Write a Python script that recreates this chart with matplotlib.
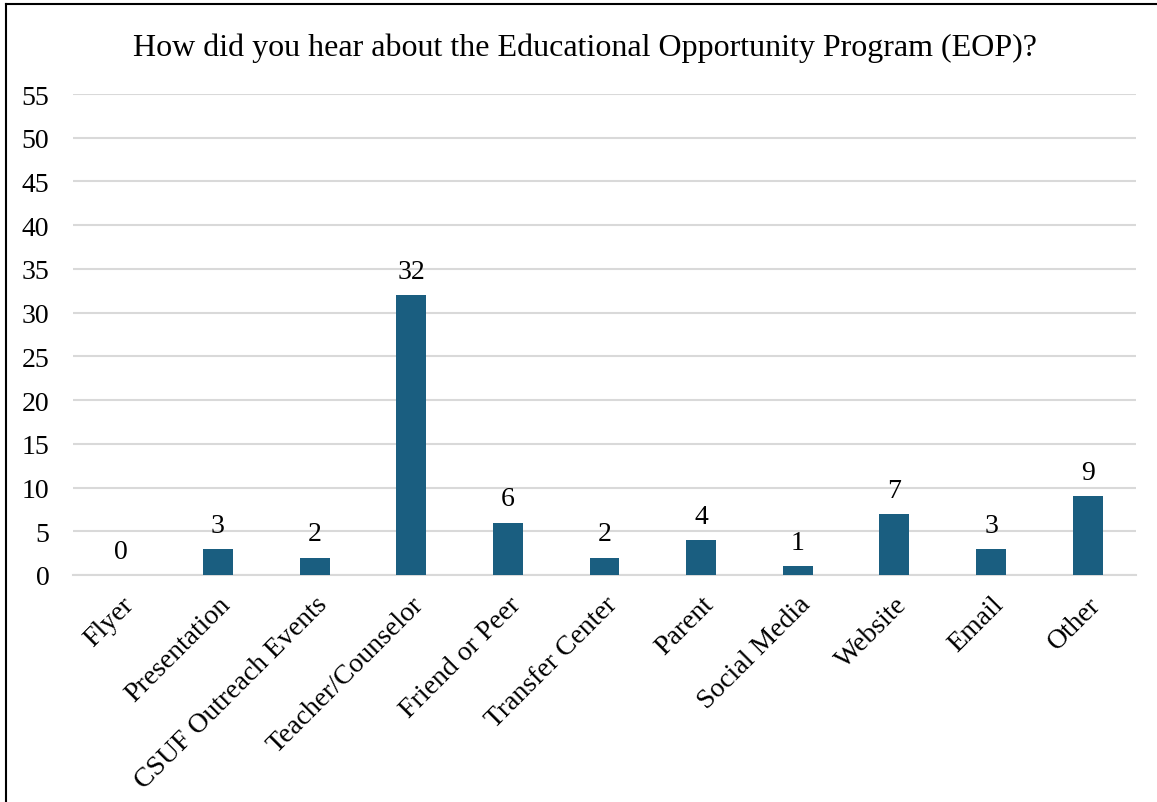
import matplotlib.pyplot as plt
import matplotlib.transforms as mtransforms
from matplotlib.lines import Line2D

categories = ["Flyer", "Presentation", "CSUF Outreach Events", "Teacher/Counselor",
              "Friend or Peer", "Transfer Center", "Parent", "Social Media",
              "Website", "Email", "Other"]
counts = [0, 3, 2, 32, 6, 2, 4, 1, 7, 3, 9]
y_ticks = list(range(0, 60, 5))
title = "How did you hear about the Educational Opportunity Program (EOP)?"

bar_color = "#1A5E80"
grid_color = "#D9D9D9"
plt.rcParams['font.family'] = ['Liberation Serif', 'DejaVu Serif']

fig = plt.figure(figsize=(11.57, 8.03), dpi=100)
ax = fig.add_axes([73 / 1157, 1 - 576 / 803, (1136 - 73) / 1157, (576 - 95) / 803])

x = range(len(categories))
bars = ax.bar(x, counts, width=0.31, color=bar_color, zorder=3)
for xi, v in zip(x, counts):
    ax.annotate(str(v), (xi, v), xytext=(0, 8), textcoords="offset points",
                ha="center", va="bottom", fontsize=20, color="#000000")

ax.set_xlim(-0.5, len(categories) - 0.5)
ax.set_ylim(0, 55)
ax.set_yticks(y_ticks)
ax.set_yticklabels([str(t) for t in y_ticks], fontsize=20)
ax.yaxis.grid(True, color=grid_color, linewidth=1.5, zorder=0)
ax.set_xticks(list(x))
ax.set_xticklabels(categories, rotation=45, ha="right", va="top",
                   rotation_mode="anchor", fontsize=20)
shift = mtransforms.ScaledTranslation(-7 / 100, 0, fig.dpi_scale_trans)
for lbl in ax.get_xticklabels():
    lbl.set_transform(lbl.get_transform() + shift)
ax.tick_params(axis="both", length=0)
ax.tick_params(axis="y", pad=17)
ax.tick_params(axis="x", pad=12)
for s in ["top", "right", "left"]:
    ax.spines[s].set_visible(False)
ax.spines["bottom"].set_color(grid_color)
ax.spines["bottom"].set_linewidth(1.5)

fig.text(585 / 1157, 1 - 48 / 803, title, ha="center", va="center", fontsize=23)

# outer frame edges
fig.add_artist(Line2D([6 / 1157, 6 / 1157], [0, 1 - 5 / 803], color="black", lw=1.5,
                      transform=fig.transFigure))
fig.add_artist(Line2D([6 / 1157, 1], [1 - 5 / 803, 1 - 5 / 803], color="black", lw=1.5,
                      transform=fig.transFigure))

fig.savefig("out.png", dpi=100, facecolor="white")
